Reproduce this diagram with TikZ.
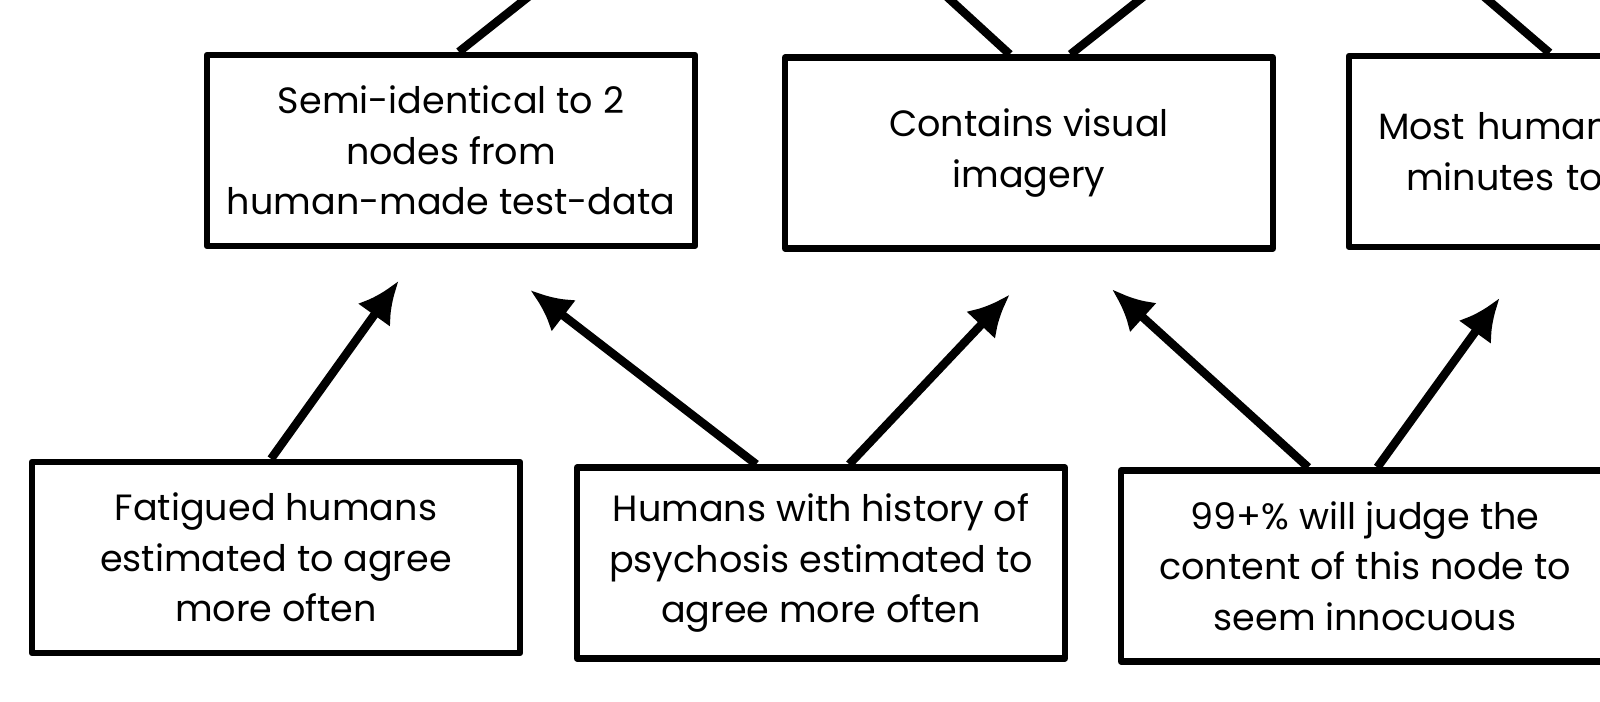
\documentclass[tikz,border=0pt]{standalone}
\usepackage{fontspec}
\setmainfont{Poppins}
\usetikzlibrary{arrows.meta,calc}

\begin{document}
\begin{tikzpicture}[every node/.style={font=\fontsize{10.4}{14.4}\selectfont},
  box/.style={draw,line width=1.8pt,line join=round,minimum width=4.88cm,minimum height=1.91cm,align=center,inner sep=0pt},
  arr/.style={-{Latex[length=4.2mm,width=4.0mm]},line width=2.4pt},
  stub/.style={line width=2.4pt}]
\useasboundingbox (0,0) rectangle (16,7.02);
\clip (0,0) rectangle (16,7.02);

% upper row
\node[box] (semi) at (4.51,5.515) {Semi-identical to 2\\nodes from\\human-made test-data};
\node[box] (visual) at (10.29,5.49) {Contains visual\\imagery};
\node[box,align=left,text width=4.30cm,inner xsep=0.29cm] (most) at (15.93,5.505) {Most humans\\\hspace*{0.28cm}minutes to};

% lower row
\node[box] (fatigued) at (2.76,1.445) {Fatigued humans\\estimated to agree\\more often};
\node[box] (psychosis) at (8.21,1.39) {Humans with history of\\psychosis estimated to\\agree more often};
\node[box] (innocuous) at (13.65,1.36) {99+\% will judge the\\content of this node to\\seem innocuous};

% links leaving the top edge
\coordinate (up1) at (6.00,7.62);
\coordinate (up2) at (8.85,7.62);
\coordinate (up3) at (12.15,7.62);
\coordinate (up4) at (14.18,7.62);
\draw[stub] ($(semi.north west)!0.516!(semi.north east)$) -- (up1);
\draw[stub] ($(visual.north west)!0.461!(visual.north east)$) -- (up2);
\draw[stub] ($(visual.north west)!0.584!(visual.north east)$) -- (up3);
\draw[stub] ($(most.north west)!0.412!(most.north east)$) -- (up4);

% arrows
\draw[arr,shorten >=0.39cm] ($(fatigued.north west)!0.49!(fatigued.north east)$) -- ($(semi.south west)!0.44!(semi.south east)$);
\draw[arr,shorten >=0.67cm] ($(psychosis.north west)!0.369!(psychosis.north east)$) -- ($(semi.south west)!0.553!(semi.south east)$);
\draw[arr,shorten >=0.59cm] ($(psychosis.north west)!0.557!(psychosis.north east)$) -- ($(visual.south west)!0.543!(visual.south east)$);
\draw[arr,shorten >=0.56cm] ($(innocuous.north west)!0.385!(innocuous.north east)$) -- ($(visual.south west)!0.584!(visual.south east)$);
\draw[arr,shorten >=0.59cm] ($(innocuous.north west)!0.525!(innocuous.north east)$) -- ($(most.south west)!0.381!(most.south east)$);
\end{tikzpicture}
\end{document}
